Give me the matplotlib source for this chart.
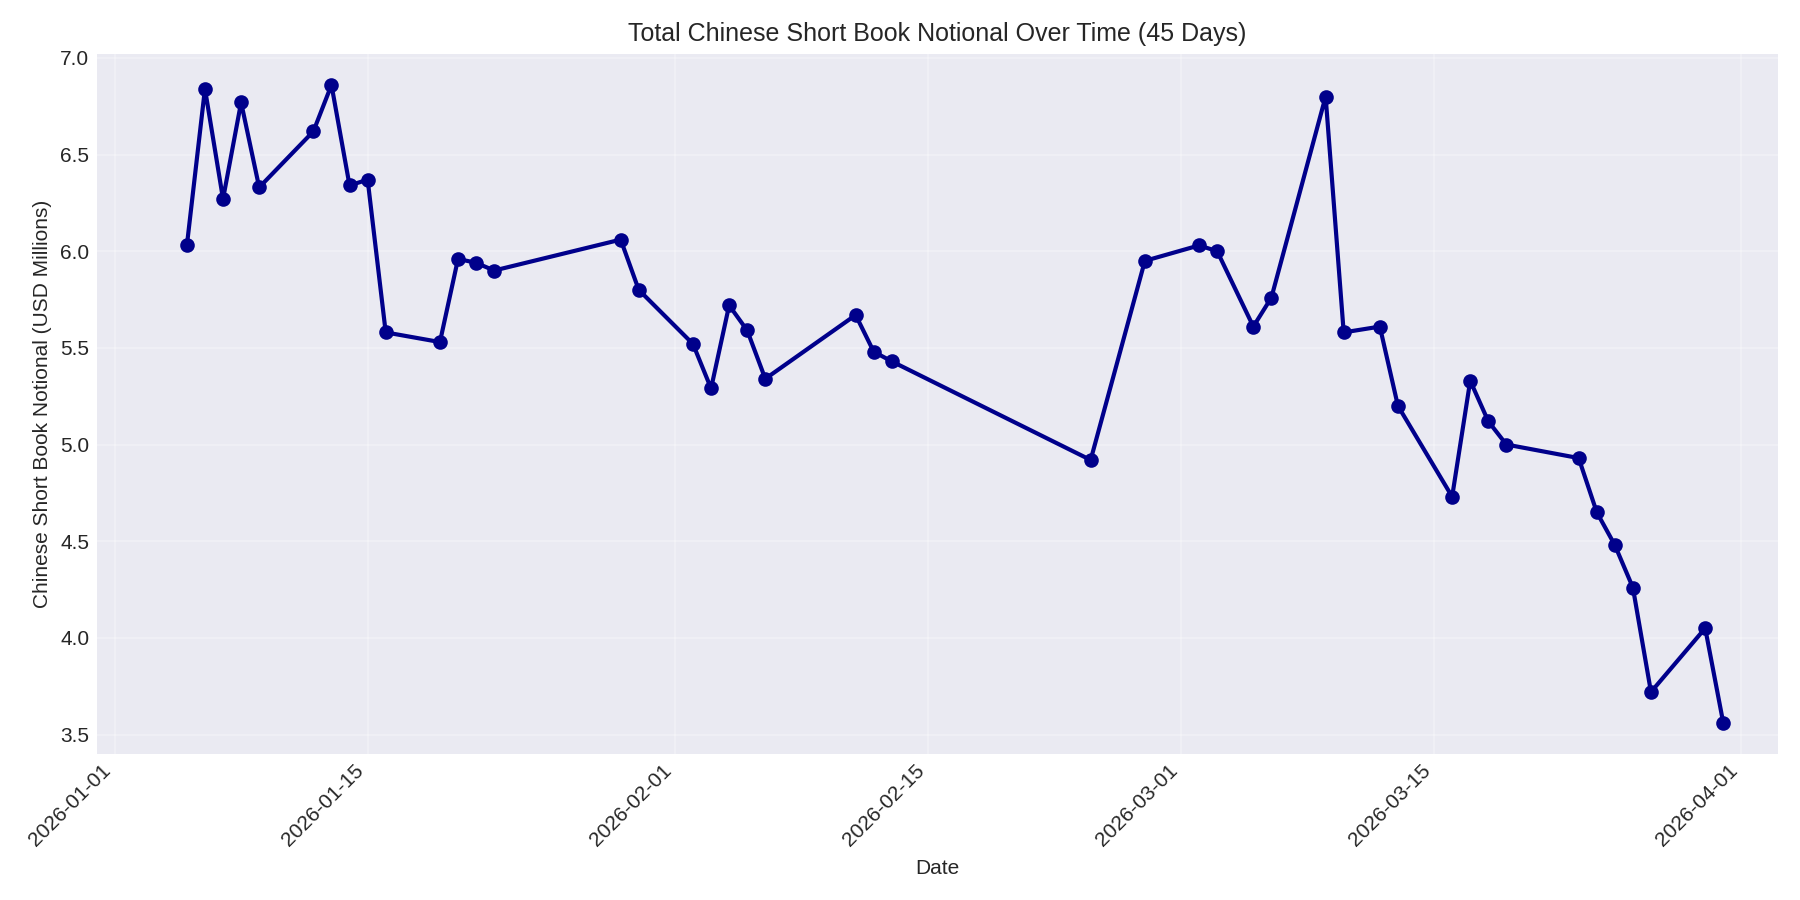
import matplotlib
matplotlib.use('Agg')
import matplotlib.pyplot as plt
import matplotlib.dates as mdates
import pandas as pd

dates = ['2026-01-05', '2026-01-06', '2026-01-07', '2026-01-08', '2026-01-09',
         '2026-01-12', '2026-01-13', '2026-01-14', '2026-01-15', '2026-01-16',
         '2026-01-19', '2026-01-20', '2026-01-21', '2026-01-22', '2026-01-29',
         '2026-01-30', '2026-02-02', '2026-02-03', '2026-02-04', '2026-02-05',
         '2026-02-06', '2026-02-11', '2026-02-12', '2026-02-13', '2026-02-24',
         '2026-02-27', '2026-03-02', '2026-03-03', '2026-03-05', '2026-03-06',
         '2026-03-09', '2026-03-10', '2026-03-12', '2026-03-13', '2026-03-16',
         '2026-03-17', '2026-03-18', '2026-03-19', '2026-03-23', '2026-03-24',
         '2026-03-25', '2026-03-26', '2026-03-27', '2026-03-30', '2026-03-31']
notional = [6.03, 6.84, 6.27, 6.77, 6.33,
            6.62, 6.86, 6.34, 6.37, 5.58,
            5.53, 5.96, 5.94, 5.90, 6.06,
            5.80, 5.52, 5.29, 5.72, 5.59,
            5.34, 5.67, 5.48, 5.43, 4.92,
            5.95, 6.03, 6.00, 5.61, 5.76,
            6.80, 5.58, 5.61, 5.20, 4.73,
            5.33, 5.12, 5.00, 4.93, 4.65,
            4.48, 4.26, 3.72, 4.05, 3.56]

x = pd.to_datetime(dates)

plt.style.use('seaborn-v0_8-darkgrid')
fig, ax = plt.subplots(figsize=(12, 6), dpi=150)
ax.plot(x, notional, color='darkblue', linewidth=2, marker='o', markersize=6)

ax.set_title('Total Chinese Short Book Notional Over Time (45 Days)', fontsize=12)
ax.set_xlabel('Date')
ax.set_ylabel('Chinese Short Book Notional (USD Millions)')
ax.set_ylim(3.4, 7.02)
ax.set_xlim(pd.Timestamp('2025-12-31'), pd.Timestamp('2026-04-03'))
ax.xaxis.set_major_locator(mdates.DayLocator(bymonthday=[1, 15]))
ax.xaxis.set_major_formatter(mdates.DateFormatter('%Y-%m-%d'))
plt.setp(ax.get_xticklabels(), rotation=45, ha='right')
ax.grid(True, alpha=0.3)

plt.tight_layout()
plt.savefig('out.png')
